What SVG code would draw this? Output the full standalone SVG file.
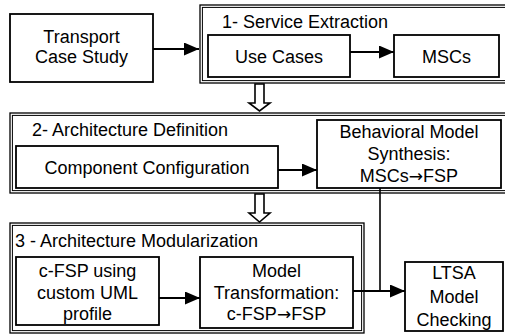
<svg xmlns="http://www.w3.org/2000/svg" width="505" height="335" viewBox="0 0 505 335">
  <style>
    .box { fill: #fff; stroke: #000; stroke-width: 1.8; }
    .frame { fill: none; stroke: #000; stroke-width: 1.3; }
    .frame-in { fill: none; stroke: #000; stroke-width: 1; }
    .lbl { font-family: "Liberation Sans", Arial, sans-serif; font-size: 18px; fill: #000; }
    .mid { text-anchor: middle; }
    .sym { font-family: "DejaVu Sans", sans-serif; font-size: 17px; }
    .wire { fill: none; stroke: #000; stroke-width: 2.2; }
    .hollow { fill: #fff; stroke: #000; stroke-width: 1.6; stroke-linejoin: miter; }
  </style>
  <defs>
    <marker id="head" markerUnits="userSpaceOnUse" markerWidth="16" markerHeight="14" refX="15" refY="6.5" orient="auto">
      <path d="M0,0 L15,6.5 L0,13 z" fill="#000"/>
    </marker>
  </defs>

  <!-- phase frames (double outline) -->
  <g id="phase1">
    <rect class="frame" x="200" y="5" width="320" height="78"/>
    <rect class="frame-in" x="202.4" y="7.4" width="320" height="73.2"/>
    <text class="lbl" x="222" y="28">1- Service Extraction</text>
  </g>
  <g id="phase2">
    <rect class="frame" x="10" y="113" width="510" height="80"/>
    <rect class="frame-in" x="12.4" y="115.4" width="510" height="75.2"/>
    <text class="lbl" x="32" y="136">2- Architecture Definition</text>
  </g>
  <g id="phase3">
    <rect class="frame" x="10" y="223" width="354" height="110"/>
    <rect class="frame-in" x="12.4" y="225.4" width="349.2" height="105.2"/>
    <text class="lbl" x="15" y="247">3 - Architecture Modularization</text>
  </g>

  <!-- nodes -->
  <g id="transport">
    <rect class="box" x="10" y="14" width="143" height="68"/>
    <text class="lbl mid" x="81.5" y="43">Transport</text>
    <text class="lbl mid" x="81.5" y="63">Case Study</text>
  </g>
  <g id="use-cases">
    <rect class="box" x="208" y="35" width="142" height="42"/>
    <text class="lbl mid" x="279" y="63">Use Cases</text>
  </g>
  <g id="mscs">
    <rect class="box" x="394" y="35" width="105" height="42"/>
    <text class="lbl mid" x="446.5" y="63">MSCs</text>
  </g>
  <g id="component-config">
    <rect class="box" x="16" y="146" width="262" height="42"/>
    <text class="lbl mid" x="147" y="174">Component Configuration</text>
  </g>
  <g id="behavioral-synthesis">
    <rect class="box" x="317" y="120" width="184" height="68"/>
    <text class="lbl mid" x="409" y="138">Behavioral Model</text>
    <text class="lbl mid" x="409" y="160">Synthesis:</text>
    <text class="lbl mid" x="409" y="182">MSCs<tspan class="sym">→</tspan>FSP</text>
  </g>
  <g id="cfsp-profile">
    <rect class="box" x="16" y="257" width="143" height="68"/>
    <text class="lbl mid" x="87.5" y="277">c-FSP using</text>
    <text class="lbl mid" x="87.5" y="299">custom UML</text>
    <text class="lbl mid" x="87.5" y="320">profile</text>
  </g>
  <g id="model-transformation">
    <rect class="box" x="200" y="257" width="153" height="71"/>
    <text class="lbl mid" x="276.5" y="277">Model</text>
    <text class="lbl mid" x="276.5" y="299">Transformation:</text>
    <text class="lbl mid" x="276.5" y="320">c-FSP<tspan class="sym">→</tspan>FSP</text>
  </g>
  <g id="ltsa">
    <rect class="box" x="405" y="262" width="98" height="69"/>
    <text class="lbl mid" x="454" y="279">LTSA</text>
    <text class="lbl mid" x="454" y="303">Model</text>
    <text class="lbl mid" x="454" y="326">Checking</text>
  </g>

  <!-- connectors -->
  <g id="connectors">
    <line class="wire" x1="153" y1="49" x2="199" y2="49" marker-end="url(#head)"/>
    <line class="wire" x1="350" y1="52" x2="394" y2="52" marker-end="url(#head)"/>
    <line class="wire" x1="278" y1="170" x2="317" y2="170" marker-end="url(#head)"/>
    <line class="wire" x1="159" y1="298" x2="200" y2="298" marker-end="url(#head)"/>
    <polyline class="wire" points="380,188 380,291" style="stroke-width:1.6"/>
    <line class="wire" x1="353" y1="291" x2="405" y2="291" marker-end="url(#head)"/>
    <!-- hollow phase-to-phase arrows -->
    <path class="hollow" d="M255,84 L264,84 L264,103 L270,103 L259.5,111 L249,103 L255,103 z"/>
    <path class="hollow" d="M255,194 L264,194 L264,213 L270,213 L259.5,222 L249,213 L255,213 z"/>
  </g>
</svg>
